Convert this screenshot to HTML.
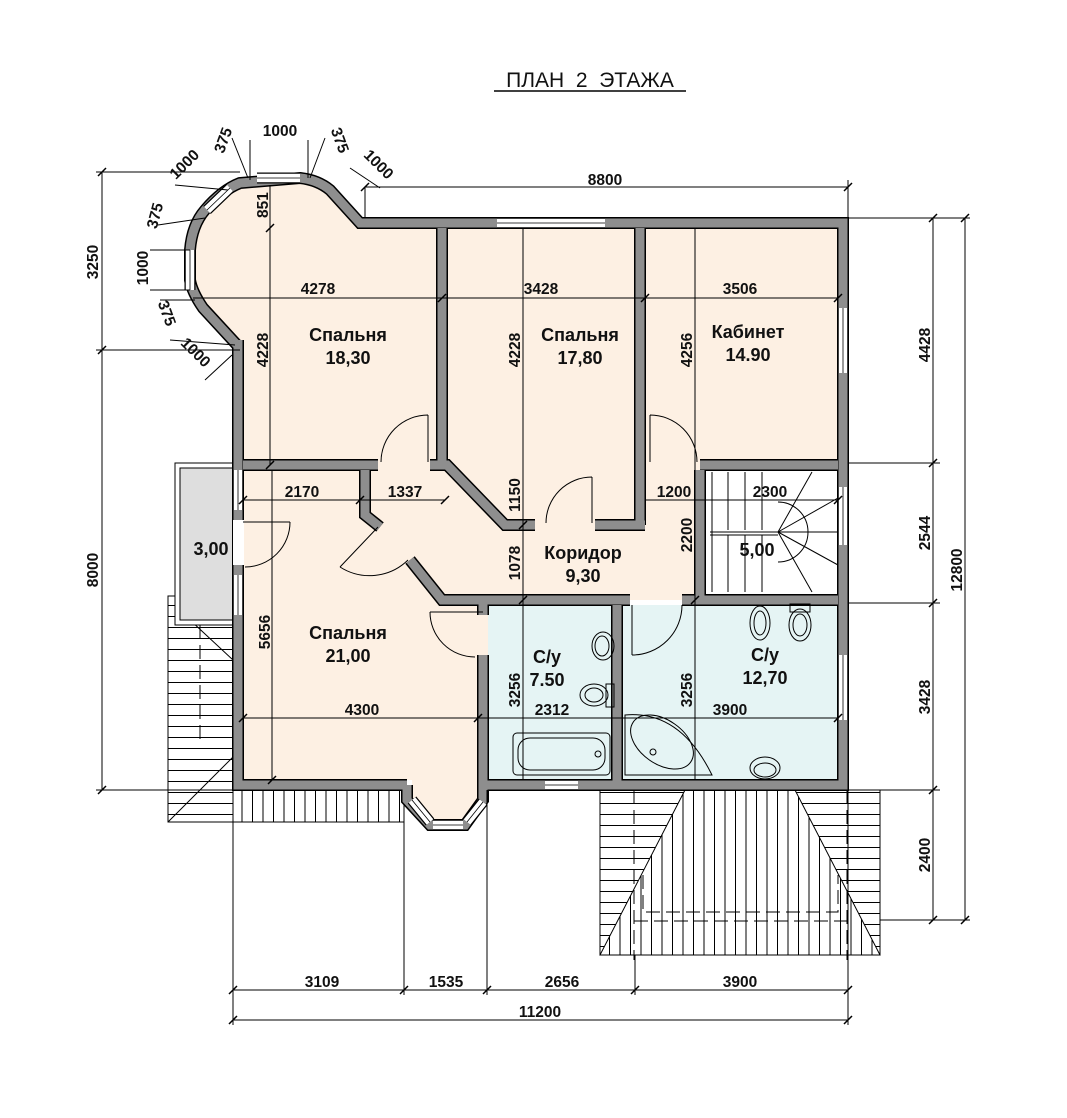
<!DOCTYPE html>
<html><head><meta charset="utf-8"><style>
html,body{margin:0;padding:0;background:#fff;}
svg{display:block;font-family:"Liberation Sans",sans-serif;}
.d{font-size:15.5px;font-weight:bold;fill:#111;}
.r{font-size:18px;font-weight:bold;fill:#111;}
.l{stroke:#000;stroke-width:1;fill:none;}
.w1{stroke:#000;stroke-width:12;fill:none;stroke-linejoin:miter;stroke-linecap:butt;}
.w2{stroke:#8e8e8e;stroke-width:9;fill:none;stroke-linejoin:miter;stroke-linecap:butt;}
</style></head><body>
<svg width="1067" height="1118" viewBox="0 0 1067 1118" xmlns="http://www.w3.org/2000/svg">
<defs>
<pattern id="hz" width="10" height="11" patternUnits="userSpaceOnUse"><line x1="0" y1="0.5" x2="10" y2="0.5" stroke="#000" stroke-width="1"/></pattern>
<pattern id="vt" width="10.5" height="10" patternUnits="userSpaceOnUse"><line x1="0.5" y1="0" x2="0.5" y2="10" stroke="#000" stroke-width="1"/></pattern>
</defs>

<!-- title -->
<text x="590" y="87" text-anchor="middle" style="font-size:21px;white-space:pre" fill="#111" xml:space="preserve">ПЛАН  2  ЭТАЖА</text>
<line x1="494" y1="91" x2="686" y2="91" stroke="#000" stroke-width="1.5"/>

<!-- roofs -->
<rect x="168" y="596" width="65" height="226" fill="url(#hz)" stroke="#000"/>
<rect x="233" y="790" width="171" height="32" fill="url(#vt)" stroke="#000"/>
<line x1="168" y1="822" x2="233" y2="757" class="l"/>
<line x1="190" y1="620" x2="233" y2="660" class="l"/>
<line x1="200" y1="625" x2="200" y2="745" class="l" stroke-dasharray="14 6"/>
<rect x="600" y="790" width="280" height="165" fill="url(#hz)" stroke="#000"/>
<polygon points="685,790 795,790 880,955 600,955" fill="#fff"/>
<polygon points="685,790 795,790 880,955 600,955" fill="url(#vt)" stroke="#000"/>
<line x1="634" y1="790" x2="634" y2="960" class="l" stroke-dasharray="14 6"/>
<line x1="847" y1="790" x2="847" y2="960" class="l" stroke-dasharray="14 6"/>
<path d="M643,875 V912 H838 V875" class="l" stroke-dasharray="14 6"/>
<line x1="634" y1="921" x2="847" y2="921" class="l" stroke-dasharray="14 6"/>

<!-- balcony -->
<rect x="175" y="463" width="58" height="162" fill="#fff" stroke="#000"/>
<rect x="180" y="468" width="53" height="152" fill="#dedede" stroke="#000"/>

<!-- floors -->
<polygon points="243,465 243,345 205,308 193,290 193,245 205,210 235,186 300,180 325,186 362,228 838,228 838,465 700,465 700,600 488,600 488,780 412,780 412,800 430,825 465,825 485,800 485,780 243,780" fill="#fdf0e3"/>
<rect x="488" y="605" width="350" height="175" fill="#e5f4f4"/>
<rect x="705" y="470" width="133" height="125" fill="#fff"/>

<!-- stairs -->
<g class="l">
<line x1="712" y1="472" x2="712" y2="592"/><line x1="728" y1="472" x2="728" y2="530"/><line x1="745" y1="472" x2="745" y2="530"/><line x1="762" y1="472" x2="762" y2="530"/>
<line x1="728" y1="535" x2="728" y2="592"/><line x1="745" y1="535" x2="745" y2="592"/><line x1="762" y1="535" x2="762" y2="592"/>
<line x1="710" y1="532" x2="778" y2="532"/><line x1="710" y1="535" x2="778" y2="535"/>
<path d="M778,502 A30,30 0 0 1 778,562"/>
<line x1="778" y1="532" x2="812" y2="472"/><line x1="778" y1="532" x2="838" y2="498"/><line x1="778" y1="532" x2="838" y2="532"/><line x1="778" y1="532" x2="838" y2="565"/><line x1="778" y1="532" x2="812" y2="592"/>
</g>

<!-- walls -->
<g>
<path class="w1" d="M238,465 V346 L203,308 Q192,292 190,280 V250 Q192,225 205,210 Q222,190 240,183 L300,178 Q318,180 330,190 L360,223 H843 V785 H480 M407,785 H238 V340"/>
<path class="w1" d="M407,785 V800 L430,825 H465 L483,800 V785"/>
<path class="w1" d="M442,228 V465 M640,228 V525 M243,465 H378 M430,465 H447 L505,525 H535 M595,525 H645 M700,465 H838 M700,470 V600 M365,470 V515 L380,527 M410,560 L442,600 H630 M682,600 H838 M483,600 V615 M483,655 V785 M617,605 V785"/>
<path class="w2" d="M238,465 V346 L203,308 Q192,292 190,280 V250 Q192,225 205,210 Q222,190 240,183 L300,178 Q318,180 330,190 L360,223 H843 V785 H480 M407,785 H238 V340"/>
<path class="w2" d="M407,785 V800 L430,825 H465 L483,800 V785"/>
<path class="w2" d="M442,228 V465 M640,228 V525 M243,465 H378 M430,465 H447 L505,525 H535 M595,525 H645 M700,465 H838 M700,470 V600 M365,470 V515 L380,527 M410,560 L442,600 H630 M682,600 H838 M483,600 V615 M483,655 V785 M617,605 V785"/>
</g>
<!-- windows -->
<g stroke-linecap="butt">
<g stroke="#000" stroke-width="11" fill="none">
<path d="M497,223 H605 M843,308 V373 M843,487 V545 M843,655 V720 M545,785 H578 M238,470 V510 M238,575 V615 M190,250 V290 M207,210 L230,188 M257,178 H300 M412,800 L430,822 M433,825 H463 M467,822 L483,802"/>
</g>
<g stroke="#fff" stroke-width="8.5" fill="none">
<path d="M497,223 H605 M843,308 V373 M843,487 V545 M843,655 V720 M545,785 H578 M238,470 V510 M238,575 V615 M190,250 V290 M207,210 L230,188 M257,178 H300 M412,800 L430,822 M433,825 H463 M467,822 L483,802"/>
</g>
<g stroke="#000" stroke-width="0.8" fill="none">
<path d="M497,223 H605 M843,308 V373 M843,487 V545 M843,655 V720 M545,785 H578 M238,470 V510 M238,575 V615 M190,250 V290 M207,210 L230,188 M257,178 H300 M412,800 L430,822 M433,825 H463 M467,822 L483,802"/>
</g>
<rect x="233" y="520" width="11" height="45" fill="#fff"/>
</g>

<!-- doors -->
<g class="l">
<path d="M428,415 V462 M428,415 A47,47 0 0 0 381,462"/>
<path d="M592,477 V523 M592,477 A46,46 0 0 0 546,523"/>
<path d="M650,415 V462 M650,415 A47,47 0 0 1 697,462"/>
<path d="M290,522 H243 M290,522 A45,45 0 0 1 245,567"/>
<path d="M378,527 L340,567 M340,567 A55,55 0 0 0 408,560"/>
<path d="M430,612 A45,45 0 0 0 475,657 M430,612 H483"/>
<path d="M682,605 A50,50 0 0 1 632,655 M632,605 V655"/>
</g>

<!-- fixtures -->
<g class="l" stroke-width="0.9">
<rect x="513" y="733" width="97" height="42" rx="4"/><rect x="518" y="738" width="87" height="32" rx="12"/><circle cx="598" cy="754" r="3"/>
<ellipse cx="603" cy="646" rx="11" ry="14"/><ellipse cx="602" cy="646" rx="7" ry="10"/>
<ellipse cx="594" cy="695" rx="14" ry="11"/><ellipse cx="594" cy="695" rx="9" ry="7"/><rect x="606" y="684" width="8" height="23"/>
<path d="M625,715 Q680,710 712,775 H625 Z"/><ellipse cx="662" cy="742" rx="35" ry="22" transform="rotate(35 662 742)"/><circle cx="653" cy="752" r="3"/>
<ellipse cx="760" cy="623" rx="10" ry="17"/><ellipse cx="760" cy="623" rx="6" ry="12"/>
<rect x="790" y="604" width="20" height="8"/><ellipse cx="800" cy="625" rx="11" ry="16"/><ellipse cx="800" cy="625" rx="7" ry="11"/>
<ellipse cx="765" cy="768" rx="15" ry="11"/><ellipse cx="765" cy="770" rx="11" ry="7"/>
</g>

<!-- dimension lines -->
<g class="l">
<line x1="365" y1="187" x2="848" y2="187"/><line x1="848" y1="180" x2="848" y2="218"/><line x1="365" y1="187" x2="365" y2="218"/>
<line x1="102" y1="172" x2="102" y2="790"/><line x1="96" y1="172" x2="240" y2="172"/><line x1="96" y1="350" x2="240" y2="350"/><line x1="96" y1="790" x2="233" y2="790"/>
<line x1="848" y1="218" x2="970" y2="218"/><line x1="933" y1="218" x2="933" y2="920"/><line x1="965" y1="218" x2="965" y2="920"/>
<line x1="848" y1="463" x2="940" y2="463"/><line x1="848" y1="603" x2="940" y2="603"/><line x1="880" y1="790" x2="940" y2="790"/><line x1="880" y1="920" x2="970" y2="920"/>
<line x1="233" y1="990" x2="848" y2="990"/><line x1="233" y1="1020" x2="848" y2="1020"/>
<line x1="233" y1="790" x2="233" y2="1025"/><line x1="404" y1="822" x2="404" y2="995"/><line x1="487" y1="790" x2="487" y2="995"/><line x1="635" y1="955" x2="635" y2="995"/><line x1="848" y1="790" x2="848" y2="1025"/>
<line x1="270" y1="185" x2="270" y2="465"/><line x1="193" y1="298" x2="838" y2="298"/>
<line x1="523" y1="228" x2="523" y2="780"/><line x1="695" y1="228" x2="695" y2="780"/>
<line x1="243" y1="500" x2="445" y2="500"/><line x1="645" y1="500" x2="838" y2="500"/>
<line x1="272" y1="470" x2="272" y2="780"/><line x1="243" y1="718" x2="838" y2="718"/>
<line x1="250" y1="140" x2="250" y2="180"/><line x1="308" y1="140" x2="308" y2="178"/>
<line x1="232" y1="138" x2="248" y2="178"/><line x1="325" y1="138" x2="310" y2="178"/>
<line x1="175" y1="185" x2="228" y2="190"/><line x1="380" y1="188" x2="350" y2="168"/>
<line x1="158" y1="225" x2="205" y2="218"/><line x1="150" y1="250" x2="190" y2="250"/><line x1="150" y1="290" x2="190" y2="290"/>
<line x1="160" y1="300" x2="195" y2="300"/><line x1="170" y1="340" x2="235" y2="345"/><line x1="205" y1="380" x2="232" y2="355"/>
</g>
<g stroke="#000" stroke-width="1.5">
<path d="M844,191 l8,-8 M361,191 l8,-8 M98,176 l8,-8 M98,354 l8,-8 M98,794 l8,-8 M929,222 l8,-8 M961,222 l8,-8 M929,467 l8,-8 M929,607 l8,-8 M929,794 l8,-8 M929,924 l8,-8 M961,924 l8,-8 M229,994 l8,-8 M400,994 l8,-8 M483,994 l8,-8 M631,994 l8,-8 M844,994 l8,-8 M229,1024 l8,-8 M844,1024 l8,-8 M266,232 l8,-8 M266,469 l8,-8 M438,302 l8,-8 M641,302 l8,-8 M834,302 l8,-8 M519,529 l8,-8 M519,604 l8,-8 M691,604 l8,-8 M239,504 l8,-8 M356,504 l8,-8 M441,504 l8,-8 M834,504 l8,-8 M268,784 l8,-8 M239,722 l8,-8 M474,722 l8,-8 M834,722 l8,-8"/>
</g>

<!-- room labels -->
<g class="r" text-anchor="middle">
<text x="348" y="341">Спальня</text><text x="348" y="364">18,30</text>
<text x="580" y="341">Спальня</text><text x="580" y="364">17,80</text>
<text x="748" y="338">Кабинет</text><text x="748" y="361">14.90</text>
<text x="583" y="559">Коридор</text><text x="583" y="582">9,30</text>
<text x="348" y="639">Спальня</text><text x="348" y="662">21,00</text>
<text x="547" y="663">С/у</text><text x="547" y="686">7.50</text>
<text x="765" y="661">С/у</text><text x="765" y="684">12,70</text>
<text x="211" y="555">3,00</text>
<text x="757" y="556">5,00</text>
</g>

<!-- dimension texts -->
<g class="d" text-anchor="middle">
<text x="605" y="185">8800</text>
<text x="318" y="294">4278</text><text x="541" y="294">3428</text><text x="740" y="294">3506</text>
<text x="302" y="497">2170</text><text x="405" y="497">1337</text><text x="674" y="497">1200</text><text x="770" y="497">2300</text>
<text x="362" y="715">4300</text><text x="552" y="715">2312</text><text x="730" y="715">3900</text>
<text x="322" y="987">3109</text><text x="446" y="987">1535</text><text x="562" y="987">2656</text><text x="740" y="987">3900</text>
<text x="540" y="1017">11200</text>
<text x="280" y="136">1000</text>
<text transform="translate(268,205) rotate(-90)">851</text>
<text transform="translate(268,350) rotate(-90)">4228</text>
<text transform="translate(520,350) rotate(-90)">4228</text>
<text transform="translate(692,350) rotate(-90)">4256</text>
<text transform="translate(520,495) rotate(-90)">1150</text>
<text transform="translate(520,563) rotate(-90)">1078</text>
<text transform="translate(692,535) rotate(-90)">2200</text>
<text transform="translate(270,632) rotate(-90)">5656</text>
<text transform="translate(520,690) rotate(-90)">3256</text>
<text transform="translate(692,690) rotate(-90)">3256</text>
<text transform="translate(930,345) rotate(-90)">4428</text>
<text transform="translate(930,533) rotate(-90)">2544</text>
<text transform="translate(930,697) rotate(-90)">3428</text>
<text transform="translate(930,855) rotate(-90)">2400</text>
<text transform="translate(962,570) rotate(-90)">12800</text>
<text transform="translate(98,262) rotate(-90)">3250</text>
<text transform="translate(98,570) rotate(-90)">8000</text>
<text transform="translate(228,142) rotate(-70)">375</text>
<text transform="translate(335,142) rotate(70)">375</text>
<text transform="translate(188,168) rotate(-45)">1000</text>
<text transform="translate(375,168) rotate(45)">1000</text>
<text transform="translate(160,217) rotate(-75)">375</text>
<text transform="translate(148,268) rotate(-90)">1000</text>
<text transform="translate(162,315) rotate(70)">375</text>
<text transform="translate(192,356) rotate(45)">1000</text>
</g>
</svg>
</body></html>
